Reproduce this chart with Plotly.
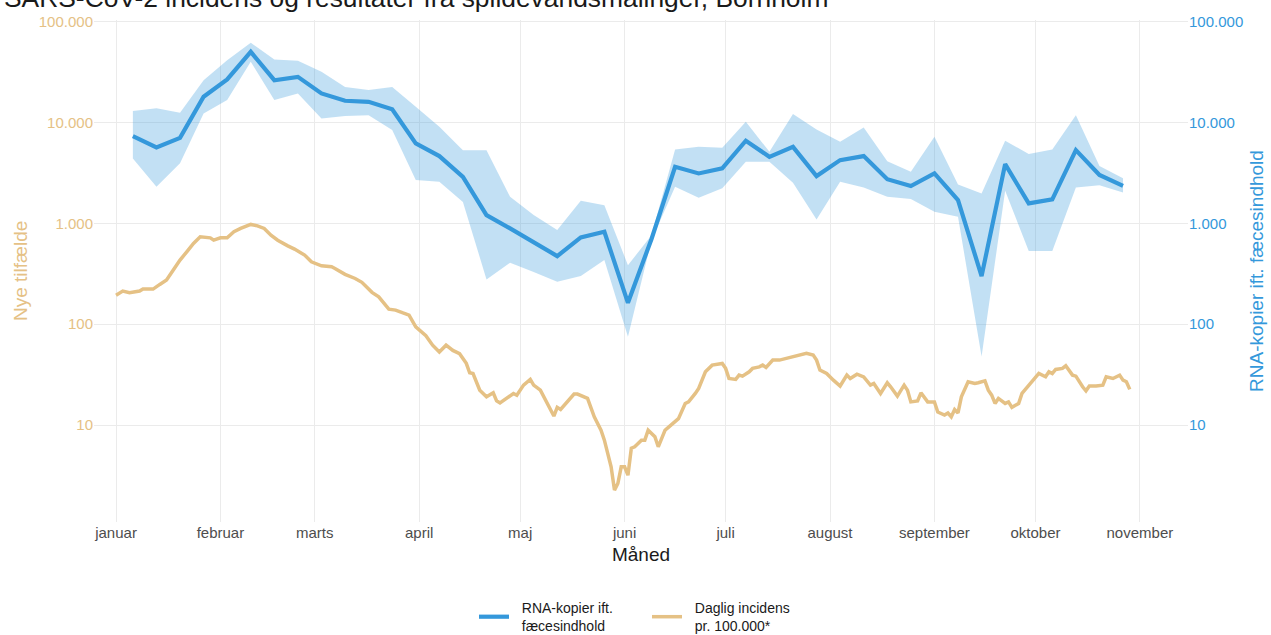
import pandas as pd
import plotly.graph_objects as go

# ---- Data ----
rna_dates = ["2022-01-06", "2022-01-13", "2022-01-20", "2022-01-27", "2022-02-03", "2022-02-10",
             "2022-02-17", "2022-02-24", "2022-03-03", "2022-03-10", "2022-03-17", "2022-03-24",
             "2022-03-31", "2022-04-07", "2022-04-14", "2022-04-21", "2022-04-28", "2022-05-05",
             "2022-05-12", "2022-05-19", "2022-05-26", "2022-06-02", "2022-06-09", "2022-06-16",
             "2022-06-23", "2022-06-30", "2022-07-07", "2022-07-14", "2022-07-21", "2022-07-28",
             "2022-08-04", "2022-08-11", "2022-08-18", "2022-08-25", "2022-09-01", "2022-09-08",
             "2022-09-15", "2022-09-22", "2022-09-29", "2022-10-06", "2022-10-13", "2022-10-20",
             "2022-10-27"]
rna_mid = [7310, 5650, 7030, 17950, 26700, 50100, 26200, 28300, 19400, 16400, 16000, 13500,
           6200, 4640, 2890, 1206, 890, 656, 473, 725, 824, 163, 700, 3630, 3120, 3500,
           6580, 4560, 5730, 2940, 4230, 4640, 2740, 2340, 3120, 1700, 300, 3860, 1575, 1725,
           5310, 3010, 2355]
rna_high = [12940, 13780, 12450, 26240, 41400, 61500, 42100, 40800, 31700, 22500, 20900, 22500,
            14290, 9040, 5310, 5310, 1830, 1206, 857, 1670, 1510, 385, 760, 5400, 5730, 5600,
            10140, 5120, 12090, 8530, 6420, 8920, 4130, 3240, 7200, 2430, 1980, 6580, 4860, 5400,
            11810, 3690, 2790]
rna_low = [4400, 2300, 3930, 12280, 16640, 39900, 16640, 19400, 10950, 11550, 11810, 8390,
           2680, 2580, 1630, 278, 406, 330, 263, 300, 432, 75, 680, 2300, 1790, 2220,
           4070, 4070, 2520, 1090, 2580, 2270, 1830, 1740, 1300, 1160, 48, 2100, 533, 533,
           2270, 2390, 2020]

inc_start = "2022-01-01"
inc_day = [0, 2, 4, 7, 8, 11, 13, 15, 17, 19, 21, 23, 25, 28, 29, 31, 33, 35, 37, 40, 42, 44, 46, 48,
           51, 53, 56, 58, 61, 64, 65, 67, 68, 71, 73, 76, 78, 81, 83, 85, 87, 89, 92, 94, 96, 98,
           100, 102, 104, 105, 106, 108, 110, 112, 113, 114, 116, 118, 119, 121, 123, 124, 126, 128,
           130, 131, 132, 136, 137, 140, 142, 144, 145, 147, 148, 149, 150, 151, 152, 153, 154, 156,
           157, 158, 160, 161, 163, 164, 166, 167, 169, 170, 172, 173, 175, 176, 177, 180, 181, 182,
           184, 185, 186, 188, 189, 191, 192, 193, 195, 197, 199, 201, 203, 205, 207, 208, 209, 211,
           213, 215, 217, 218, 220, 222, 224, 225, 227, 229, 230, 232, 234, 235, 236, 238, 239, 241,
           243, 244, 246, 247, 248, 249, 250, 251, 253, 255, 256, 257, 258, 259, 260, 261, 262, 264,
           265, 266, 268, 269, 272, 274, 276, 277, 278, 279, 281, 282, 284, 285, 287, 288, 289, 291,
           293, 294, 296, 298, 299, 300, 301]
inc_value = [194, 213, 205, 213, 223, 223, 248, 274, 344, 432, 522, 632, 735, 718, 681, 718, 718, 824,
             890, 975, 944, 890, 764, 681, 598, 555, 484, 415, 379, 371, 357, 326, 312, 284, 260, 207,
             187, 141, 138, 130, 123, 94, 77, 62, 53, 62, 55, 51, 41, 33, 32.5, 22.2, 19.1, 20.9,
             17.4, 16.6, 18.4, 20.6, 19.8, 24.9, 28.4, 24.9, 22.2, 16.4, 12.3, 15.0, 14.3, 20.3,
             20.3, 18.4, 12.1, 8.9, 7.1, 3.86, 2.27, 2.64, 3.86, 3.86, 3.19, 5.9, 6.1, 7.1, 7.1,
             8.9, 7.66, 6.1, 8.9, 9.5, 10.8, 11.6, 16.4, 17.0, 20.6, 23.1, 33.8, 36.5, 39.3, 40.9,
             36.5, 29.0, 28.4, 31.3, 30.6, 33.8, 36.5, 37.8, 39.3, 37.3, 44.1, 44.1, 45.8, 48.3,
             49.4, 51.4, 49.4, 44.1, 35.1, 32.5, 27.9, 24.4, 31.3, 29.0, 32.0, 30.1, 24.9, 25.9,
             20.6, 26.3, 24.0, 19.4, 24.9, 22.2, 17.0, 17.4, 20.9, 17.0, 17.0, 13.5, 12.6, 13.2,
             12.1, 14.3, 13.2, 19.1, 26.9, 25.9, 26.3, 26.9, 27.5, 22.2, 19.8, 16.4, 18.4, 16.4,
             17.0, 15.0, 16.4, 20.6, 26.9, 32.5, 30.1, 33.8, 32.5, 35.6, 36.5, 38.7, 31.3, 30.6,
             24.0, 21.9, 24.4, 24.4, 24.9, 30.1, 29.0, 31.3, 27.9, 26.9, 22.6]

month_ticks = ["2022-01-01", "2022-02-01", "2022-03-01", "2022-04-01", "2022-05-01", "2022-06-01",
               "2022-07-01", "2022-08-01", "2022-09-01", "2022-10-01", "2022-11-01"]
month_labels = ["januar", "februar", "marts", "april", "maj", "juni", "juli", "august",
                "september", "oktober", "november"]
y_tickvals = [10, 100, 1000, 10000, 100000]
y_ticktext = ["10", "100", "1.000", "10.000", "100.000"]

if len(inc_day) != len(inc_value):
    raise ValueError(f"length mismatch {len(inc_day)} vs {len(inc_value)}")

inc_dates = [pd.Timestamp(inc_start) + pd.Timedelta(days=d) for d in inc_day]

BLUE = "#3498DB"
ORANGE = "#E5C185"
FONT = "Liberation Sans, Arial, sans-serif"
NB = "\u00a0\u00a0"

fig = go.Figure()
fig.add_trace(go.Scatter(x=rna_dates, y=rna_high, mode="lines", line=dict(width=0),
                         showlegend=False, hoverinfo="skip", yaxis="y2"))
fig.add_trace(go.Scatter(x=rna_dates, y=rna_low, mode="lines", line=dict(width=0),
                         fill="tonexty", fillcolor="rgba(52,152,219,0.30)",
                         showlegend=False, hoverinfo="skip", yaxis="y2"))
fig.add_trace(go.Scatter(x=rna_dates, y=rna_mid, mode="lines", line=dict(color=BLUE, width=4.2),
                         name=NB + "RNA-kopier ift.<br>" + NB + "fæcesindhold", yaxis="y2"))
fig.add_trace(go.Scatter(x=inc_dates, y=inc_value, mode="lines", line=dict(color=ORANGE, width=3.5),
                         name=NB + "Daglig incidens<br>" + NB + "pr. 100.000*", yaxis="y"))

yrange = [0.04, 5.015]
plot_l, plot_r = 94, 83
plot_w = 1271 - plot_l - plot_r
plot_h = 635 - 20 - 113
fig.update_layout(
    width=1271, height=635,
    paper_bgcolor="white", plot_bgcolor="white",
    font=dict(family=FONT, size=15, color="#4D4D4D"),
    margin=dict(l=plot_l, r=plot_r, t=20, b=113, autoexpand=False),
    xaxis=dict(type="date", range=["2021-12-25 11:00", "2022-11-15 07:00"],
               tickvals=month_ticks, ticktext=month_labels, automargin=False,
               showgrid=True, gridcolor="#EBEBEB", gridwidth=1, zeroline=False,
               showline=False, ticks="", tickfont=dict(size=15, color="#4D4D4D"),
               title=dict(text="Måned", font=dict(size=19, color="#1A1A1A"), standoff=7)),
    yaxis=dict(type="log", range=yrange, tickvals=y_tickvals, ticktext=y_ticktext,
               automargin=False,
               showgrid=True, gridcolor="#EBEBEB", gridwidth=1, zeroline=False,
               showline=False, ticks="", tickfont=dict(size=15, color=ORANGE)),
    yaxis2=dict(type="log", range=yrange, tickvals=y_tickvals, ticktext=y_ticktext,
                overlaying="y", side="right", showgrid=False, zeroline=False,
                automargin=False,
                showline=False, ticks="", tickfont=dict(size=15, color=BLUE),
                title=dict(text="RNA-kopier ift. fæcesindhold", font=dict(size=19, color=BLUE),
                           standoff=7)),
    legend=dict(orientation="h", xref="container", x=474 / 1271, xanchor="left",
                yref="paper", y=-(642 - 522) / plot_h, yanchor="bottom",
                font=dict(size=14, color="#1A1A1A"), itemwidth=30, traceorder="normal",
                entrywidth=128, entrywidthmode="pixels"),
    annotations=[
        dict(text="SARS-CoV-2 incidens og resultater fra spildevandsmålinger, Bornholm",
             xref="paper", yref="paper", x=-0.0842, y=1.0, yshift=22,
             xanchor="left", yanchor="middle", showarrow=False,
             font=dict(size=26.4, color="#1A1A1A", family=FONT)),
        dict(text="Nye tilfælde", textangle=-90,
             xref="paper", yref="paper", x=(20 - plot_l) / plot_w, y=0.5,
             xanchor="center", yanchor="middle", showarrow=False,
             font=dict(size=19, color=ORANGE, family=FONT)),
    ],
)

fig.write_html("out.html", post_script="document.body.style.margin='0';",
               config={"displayModeBar": False})
